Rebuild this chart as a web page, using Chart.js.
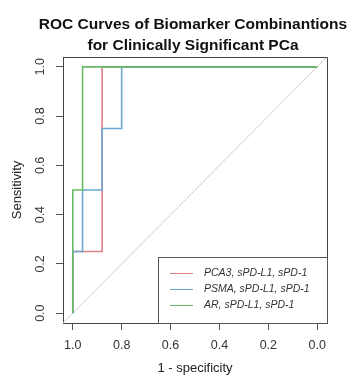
<!DOCTYPE html>
<html><head><meta charset="utf-8">
<script src="https://cdn.jsdelivr.net/npm/chart.js@4/dist/chart.umd.min.js"></script>
<style>html,body{margin:0;padding:0;background:#fff}canvas{display:block}</style>
</head><body>
<canvas id="c" width="348" height="376"></canvas>
<script>
// ---- data ----
const titleLines = ['ROC Curves of Biomarker Combinantions', 'for Clinically Significant PCa'];
const xAxisTitle = '1 - specificity';
const yAxisTitle = 'Sensitivity';
const tickValues = [0, 0.2, 0.4, 0.6, 0.8, 1.0];
const seriesNames = ['PCA3, sPD-L1, sPD-1', 'PSMA, sPD-L1, sPD-1', 'AR, sPD-L1, sPD-1'];
const seriesColors = ['#e07f8a', '#69a9d3', '#67bb67'];
// ROC curve vertices: specificity (x, axis reversed) and sensitivity (y)
const pca3Spec = [1.00, 1.00, 0.88, 0.88, 0.00];
const pca3Sens = [0.00, 0.25, 0.25, 1.00, 1.00];
const psmaSpec = [1.00, 1.00, 0.96, 0.96, 0.88, 0.88, 0.80, 0.80, 0.00];
const psmaSens = [0.00, 0.25, 0.25, 0.50, 0.50, 0.75, 0.75, 1.00, 1.00];
const arSpec   = [1.00, 1.00, 0.96, 0.96, 0.00];
const arSens   = [0.00, 0.50, 0.50, 1.00, 1.00];

// ---- build ----
const xMin = -0.04, xMax = 1.04;
const toPts = (xs, ys) => xs.map((x, i) => ({x: x, y: ys[i]}));
const seriesPts = [toPts(pca3Spec, pca3Sens), toPts(psmaSpec, psmaSens), toPts(arSpec, arSens)];
const diagPts = [{x: xMax, y: 1 - xMax}, {x: xMin, y: 1 - xMin}];

const FONT = "'Liberation Sans', Arial, sans-serif";

const datasets = seriesPts.map((pts, i) => ({
  label: seriesNames[i], data: pts, showLine: true, borderColor: seriesColors[i],
  backgroundColor: seriesColors[i], borderWidth: 1.6, pointRadius: 0, order: 2 - i,
  tension: 0
}));
datasets.push({label: 'ref', data: diagPts, showLine: true, borderColor: '#cfcfcf',
  borderWidth: 1, pointRadius: 0, order: 3});

const decor = {
  id: 'decor',
  afterDraw(chart) {
    const ctx = chart.ctx, a = chart.chartArea;
    ctx.save();
    // box
    ctx.strokeStyle = '#444'; ctx.lineWidth = 1;
    ctx.beginPath();
    ctx.moveTo(a.left, a.top + 0.5); ctx.lineTo(a.right + 0.5, a.top + 0.5);
    ctx.lineTo(a.right + 0.5, a.bottom);
    ctx.stroke();
    // title
    const cx = (a.left + a.right) / 2 - 2;
    ctx.fillStyle = '#111';
    ctx.font = 'bold 15.5px ' + FONT;
    ctx.textAlign = 'center'; ctx.textBaseline = 'alphabetic';
    ctx.fillText(titleLines[0], cx, 28.5);
    ctx.fillText(titleLines[1], cx, 49.5);
    // legend
    const lx0 = 158, ly0 = 257, lx1 = a.right, ly1 = a.bottom;
    ctx.fillStyle = '#fff';
    ctx.fillRect(lx0, ly0, lx1 - lx0, ly1 - ly0);
    ctx.strokeStyle = '#555';
    ctx.strokeRect(lx0 + 0.5, ly0 + 0.5, lx1 - lx0, ly1 - ly0);
    ctx.font = 'italic 10.5px ' + FONT;
    ctx.textAlign = 'left'; ctx.textBaseline = 'middle';
    seriesNames.forEach((name, i) => {
      const y = 273 + i * 16;
      ctx.strokeStyle = seriesColors[i]; ctx.lineWidth = 1;
      ctx.beginPath(); ctx.moveTo(170, y + 0.5); ctx.lineTo(193, y + 0.5); ctx.stroke();
      ctx.fillStyle = '#333';
      ctx.fillText(name, 204, y);
    });
    ctx.restore();
  }
};

new Chart(document.getElementById('c'), {
  type: 'scatter',
  data: {datasets: datasets},
  plugins: [decor],
  options: {
    responsive: false, animation: false, devicePixelRatio: 1,
    layout: {padding: {top: 57, right: 21, left: 0, bottom: 0}},
    plugins: {legend: {display: false}, tooltip: {enabled: false}, title: {display: false}},
    scales: {
      x: {
        type: 'linear', reverse: true, min: xMin, max: xMax,
        afterBuildTicks: s => { s.ticks = tickValues.map(v => ({value: v})); },
        afterFit: s => { s.height = 53; },
        ticks: {callback: v => v.toFixed(1), color: '#333', font: {family: FONT, size: 12.5}, padding: 8, maxRotation: 0, autoSkip: false},
        grid: {drawOnChartArea: false, drawTicks: true, tickLength: 7, color: '#555'},
        border: {display: true, color: '#444', width: 1},
        title: {display: true, text: xAxisTitle, color: '#222', font: {family: FONT, size: 13}, padding: {top: 0, bottom: 0}}
      },
      y: {
        type: 'linear', min: xMin, max: xMax,
        afterBuildTicks: s => { s.ticks = tickValues.map(v => ({value: v})); },
        afterFit: s => { s.width = 63; },
        ticks: {callback: v => v.toFixed(1), color: '#333', font: {family: FONT, size: 12.5}, padding: 7, minRotation: 90, maxRotation: 90, crossAlign: 'center', autoSkip: false},
        grid: {drawOnChartArea: false, drawTicks: true, tickLength: 7, color: '#555'},
        border: {display: true, color: '#444', width: 1},
        title: {display: true, text: yAxisTitle, color: '#222', font: {family: FONT, size: 13}, padding: {top: 10, bottom: 0}}
      }
    }
  }
});
</script>
</body></html>
